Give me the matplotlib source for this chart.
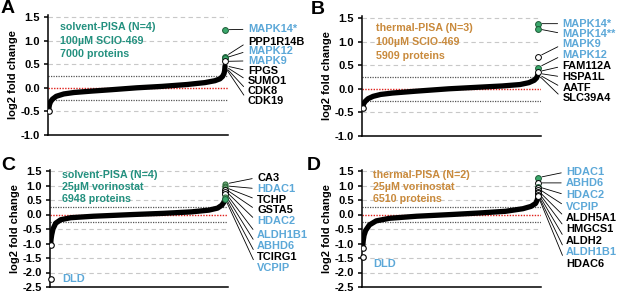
import matplotlib
matplotlib.use("Agg")
import matplotlib.pyplot as plt
from matplotlib.transforms import blended_transform_factory

plt.rcParams['font.family'] = ['Liberation Sans', 'DejaVu Sans']
plt.rcParams['font.weight'] = 'bold'

TEAL = '#23907f'
ORANGE = '#c98a3c'
BLUE = '#5ca8d8'
GREEN = '#3ba86c'
GREEN_EDGE = '#1d5a36'

# ---- sorted log2 fold change curves (rank, value) ----
a_rank = [0, 10, 30, 70, 150, 300, 600, 1000, 1700, 2500, 3500, 4500, 5500, 6200, 6600, 6800, 6900, 6960, 6985, 6995, 7000]
a_lfc = [-0.50, -0.42, -0.36, -0.30, -0.24, -0.18, -0.13, -0.10, -0.07, -0.04, 0.00, 0.03, 0.07, 0.11, 0.15, 0.19, 0.24, 0.30, 0.36, 0.42, 0.46]

b_rank = [0, 10, 30, 80, 180, 350, 600, 1000, 1800, 2900, 3800, 4700, 5300, 5600, 5780, 5860, 5895, 5909]
b_lfc = [-0.40, -0.36, -0.32, -0.27, -0.21, -0.16, -0.12, -0.09, -0.05, 0.00, 0.03, 0.06, 0.09, 0.13, 0.18, 0.23, 0.28, 0.32]

c_rank = [0, 5, 15, 40, 90, 200, 400, 800, 1700, 3300, 4500, 5600, 6300, 6650, 6820, 6900, 6948]
c_lfc = [-1.05, -0.95, -0.85, -0.70, -0.50, -0.30, -0.18, -0.11, -0.06, 0.00, 0.04, 0.09, 0.15, 0.22, 0.32, 0.42, 0.52]

d_rank = [0, 5, 20, 50, 110, 250, 500, 1000, 2000, 3300, 4300, 5300, 5950, 6250, 6420, 6480, 6510]
d_lfc = [-1.15, -1.05, -0.90, -0.72, -0.55, -0.36, -0.22, -0.13, -0.06, 0.00, 0.05, 0.11, 0.20, 0.28, 0.38, 0.50, 0.62]

# ---- labelled hits ----
a_labels = ['MAPK14*', 'PPP1R14B', 'MAPK12', 'MAPK9', 'FPGS', 'SUMO1', 'CDK8', 'CDK19']
a_blue = [1, 0, 1, 1, 0, 0, 0, 0]
a_label_y = [1.24, 0.97, 0.78, 0.57, 0.36, 0.15, -0.07, -0.28]
a_hit_y = [1.23, 0.66, 0.63, 0.56, 0.47, 0.46, 0.45, 0.44]
a_fill = ['g', 'g', 'g', 'w', '', '', '', '']

b_labels = ['MAPK14*', 'MAPK14**', 'MAPK9', 'MAPK12', 'FAM112A', 'HSPA1L', 'AATF', 'SLC39A4']
b_blue = [1, 1, 1, 1, 0, 0, 0, 0]
b_label_y = [1.38, 1.17, 0.94, 0.71, 0.48, 0.25, 0.02, -0.20]
b_hit_y = [1.38, 1.27, 0.68, 0.45, 0.36, 0.33, 0.31, 0.30]
b_fill = ['g', 'g', 'w', 'g', 'w', '', '', '']

c_labels = ['CA3', 'HDAC1', 'TCHP', 'GSTA5', 'HDAC2', 'ALDH1B1', 'ABHD6', 'TCIRG1', 'VCPIP']
c_blue = [0, 1, 0, 0, 1, 1, 1, 0, 1]
c_label_y = [1.27, 0.89, 0.51, 0.14, -0.24, -0.70, -1.07, -1.45, -1.83]
c_hit_y = [1.05, 0.99, 0.94, 0.89, 0.83, 0.77, 0.70, 0.62, 0.55]
c_fill = ['c', 'c', 'c', 'c', 'w', 'w', 'w', 'c', 'g']

d_labels = ['HDAC1', 'ABHD6', 'HDAC2', 'VCPIP', 'ALDH5A1', 'HMGCS1', 'ALDH2', 'ALDH1B1', 'HDAC6']
d_blue = [1, 1, 1, 1, 0, 0, 0, 1, 0]
d_label_y = [1.47, 1.09, 0.67, 0.27, -0.13, -0.51, -0.91, -1.31, -1.71]
d_hit_y = [1.27, 1.09, 0.96, 0.90, 0.83, 0.78, 0.73, 0.68, 0.64]
d_fill = ['g', 'w', 'g', 'w', 'w', 'w', 'w', 'w', 'w']

# DLD outliers (C, D)
c_dld = -2.23
d_dld = -1.46

a_info = ['solvent-PISA (N=4)', '100µM SCIO-469', '7000 proteins']
b_info = ['thermal-PISA (N=3)', '100µM SCIO-469', '5909 proteins']
c_info = ['solvent-PISA (N=4)', '25µM vorinostat', '6948 proteins']
d_info = ['thermal-PISA (N=2)', '25µM vorinostat', '6510 proteins']

W, H = 617, 293
fig = plt.figure(figsize=(W / 100, H / 100), dpi=100)


def make_ax(left, right, top, bottom):
    return fig.add_axes([left / W, 1 - bottom / H, (right - left) / W, (bottom - top) / H])


def style_ax(ax, ymin, n):
    ax.set_ylim(ymin, 1.55)
    ax.set_xlim(-0.004 * n, 1.017 * n)
    for s in ['top', 'right']:
        ax.spines[s].set_visible(False)
    for s in ['left', 'bottom']:
        ax.spines[s].set_linewidth(1.1)
    ax.set_xticks([])
    ticks = [t / 2 for t in range(int(ymin * 2), 4)]
    ax.set_yticks(ticks)
    ax.set_yticklabels(['%.1f' % t for t in ticks])
    ax.tick_params(axis='y', length=3, width=1.1, labelsize=8, pad=3)
    for t in ticks:
        if t in (0.0, ymin):
            continue
        ax.axhline(t, color='#c8c8c8', lw=0.8, ls=(0, (4, 3)), zorder=0)
    ax.axhline(0, color='#e0201b', lw=1.0, ls=(0, (1, 1)), zorder=1)
    ax.axhline(0.25, color='#555555', lw=0.9, ls=(0, (1, 1)), zorder=1)
    ax.axhline(-0.25, color='#555555', lw=0.9, ls=(0, (1, 1)), zorder=1)
    ax.set_ylabel('log2 fold change', fontsize=8, fontweight='bold', labelpad=2)


def draw_panel(ax, rank, lfc, labels, blue, label_y, hit_y, fill, info, info_color,
               info_y, info_x, label_x, ymin):
    n = rank[-1]
    style_ax(ax, ymin, n)
    ax.plot(rank, lfc, color='black', lw=3.8, solid_capstyle='round', zorder=3)
    ax.plot([rank[0]], [lfc[0]], 'o', ms=4, mfc='white', mec='black', mew=0.8, zorder=4)
    tr = blended_transform_factory(ax.transAxes, ax.transData)
    for lab, b, ly, hy, f in zip(labels, blue, label_y, hit_y, fill):
        if f == 'g':
            ax.plot([n], [hy], 'o', ms=4.2, mfc=GREEN, mec=GREEN_EDGE, mew=0.7, zorder=5, clip_on=False)
        elif f == 'w':
            ax.plot([n], [hy], 'o', ms=4.2, mfc='white', mec='black', mew=0.7, zorder=5, clip_on=False)
        elif f == 'c':
            ax.plot([n], [hy], 'o', ms=3.6, mfc='#8fc79a', mec='#2c6b3a', mew=0.8, zorder=5, clip_on=False)
        ax.annotate(lab, xy=(n, hy), xycoords='data', xytext=(label_x, ly), textcoords=tr,
                    ha='left', va='center', fontsize=7.9, fontweight='bold',
                    color=BLUE if b else 'black', annotation_clip=False,
                    arrowprops=dict(arrowstyle='-', color='black', lw=0.6,
                                    shrinkA=1.5, shrinkB=3, relpos=(0, 0.5)))
    for txt, y in zip(info, info_y):
        ax.text(info_x, y, txt, transform=tr, ha='left', va='center', fontsize=7.7,
                fontweight='bold', color=info_color)


ax_a = make_ax(48, 228, 17 - 0.05 * 47.2, 135)
draw_panel(ax_a, a_rank, a_lfc, a_labels, a_blue, a_label_y, a_hit_y, a_fill,
           a_info, TEAL, [1.29, 0.99, 0.71], 0.067, 1.11, -1.0)

ax_b = make_ax(362, 541, 18 - 0.05 * 47.2, 136)
draw_panel(ax_b, b_rank, b_lfc, b_labels, b_blue, b_label_y, b_hit_y, b_fill,
           b_info, ORANGE, [1.29, 0.99, 0.70], 0.078, 1.12, -1.0)

ax_c = make_ax(50, 228, 171 - 0.05 * 29.0, 287)
draw_panel(ax_c, c_rank, c_lfc, c_labels, c_blue, c_label_y, c_hit_y, c_fill,
           c_info, TEAL, [1.36, 0.95, 0.54], 0.067, 1.163, -2.5)
ax_c.plot([0], [c_dld], 'o', ms=4, mfc='white', mec='black', mew=0.8, zorder=5, clip_on=False)
ax_c.text(0.067, c_dld, 'DLD', transform=blended_transform_factory(ax_c.transAxes, ax_c.transData),
          ha='left', va='center', fontsize=7.9, fontweight='bold', color=BLUE)

ax_d = make_ax(362, 541, 171 - 0.05 * 29.0, 287)
draw_panel(ax_d, d_rank, d_lfc, d_labels, d_blue, d_label_y, d_hit_y, d_fill,
           d_info, ORANGE, [1.36, 0.95, 0.54], 0.061, 1.14, -2.5)
ax_d.plot([0], [d_dld], 'o', ms=4, mfc='white', mec='black', mew=0.8, zorder=5, clip_on=False)
ax_d.text(0.061, -1.71, 'DLD', transform=blended_transform_factory(ax_d.transAxes, ax_d.transData),
          ha='left', va='center', fontsize=7.9, fontweight='bold', color=BLUE)

for letter, x, y in [('A', 1, 0), ('B', 311, 1), ('C', 1, 157), ('D', 307, 157)]:
    fig.text(x / W, 1 - y / H, letter, ha='left', va='top', fontsize=14, fontweight='bold')

fig.savefig('out.png', dpi=100)
